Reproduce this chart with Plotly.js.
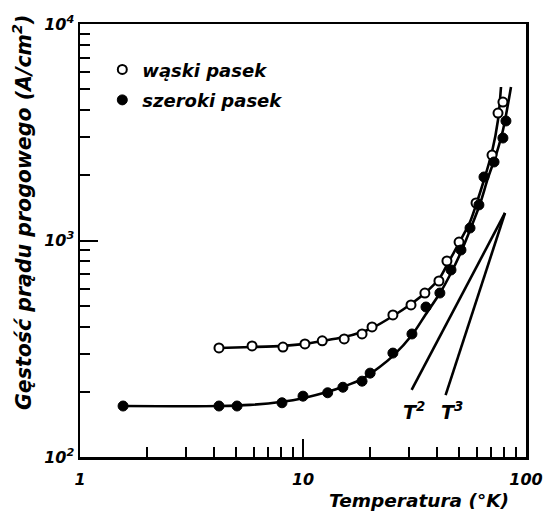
<!DOCTYPE html>
<html>
<head>
<meta charset="utf-8">
<script src="https://cdn.plot.ly/plotly-3.0.1.min.js"></script>
<style>html,body{margin:0;padding:0;background:#fff;}#chart{width:546px;height:516px;}</style>
</head>
<body>
<div id="chart"></div>
<script>
// Measured points: narrow stripe (open circles)
const T_waski = [4.20, 5.91, 8.13, 10.2, 12.2, 15.3, 18.4, 20.4, 25.3, 30.5, 35.2, 40.7, 44.2, 50.1, 59.7, 70.4, 74.9, 78.8];
const J_waski = [319, 326, 322, 333, 344, 351, 370, 399, 453, 504, 572, 650, 804, 984, 1490, 2480, 3880, 4360];
// Measured points: wide stripe (filled circles)
const T_szeroki = [1.56, 4.20, 5.06, 8.05, 10.0, 12.9, 15.1, 18.4, 20.0, 25.3, 30.8, 35.6, 41.1, 46.1, 51.1, 56.1, 61.5, 64.8, 71.9, 78.8, 81.3];
const J_szeroki = [172, 172, 172, 178, 191, 198, 210, 224, 244, 302, 370, 493, 572, 731, 904, 1142, 1460, 1965, 2305, 2974, 3565];
// Hand-drawn curves through the points
const fitT_waski = [4.20, 5.91, 8.13, 10.21, 12.17, 15.27, 18.39, 20.39, 25.33, 30.51, 35.25, 40.72, 44.23, 50.08, 56.09, 59.68, 64.82, 70.39, 74.89, 77.25];
const fitJ_waski = [319, 322, 326, 333, 343, 358, 378, 394, 448, 509, 572, 664, 771, 974, 1218, 1459, 1903, 2563, 3603, 5117];
const fitT_szeroki = [1.56, 4.20, 5.79, 8.05, 10.0, 12.94, 15.11, 18.39, 22.14, 25.33, 30.82, 35.61, 41.15, 46.10, 51.12, 56.09, 62.20, 67.54, 73.37, 78.87, 85.65];
const fitJ_szeroki = [172, 172, 174, 180, 187, 200, 211, 229, 261, 293, 366, 458, 572, 708, 885, 1118, 1475, 1945, 2483, 3239, 5117];
// Reference slopes T^2 and T^3
const T2_T = [30.7, 80.5], T2_J = [204, 1340];
const T3_T = [43.6, 80.5], T3_J = [193, 1340];
const slopeLabels = ['T<sup>2</sup>', 'T<sup>3</sup>'];
const slopeLabelT = [31.5, 46.5], slopeLabelJ = [163, 163];
// Axis ticks
const xTickVals = [1, 10, 100], xTickText = ['1', '10', '100'];
const xMinorVals = [2,3,4,5,6,7,8,9,20,30,40,50,60,70,80,90];
const yTickVals = [100, 1000, 10000], yTickText = ['10<sup>2</sup>', '10<sup>3</sup>', '10<sup>4</sup>'];
const yMinorVals = [200,300,400,500,600,700,800,900,2000,3000,4000,5000,6000,7000,8000,9000];
const seriesNames = ['wąski pasek', 'szeroki pasek'];
const xTitle = 'Temperatura (°K)';
const yTitle = 'Gęstość prądu progowego (A/cm<sup>2</sup>)';

const FONT = {family: 'DejaVu Sans', size: 16, color: '#000', style: 'italic', weight: 'bold'};
const f = (size) => Object.assign({}, FONT, {size: size});
const lineStyle = {color: '#000', width: 2.6};

const traces = [
  {x: fitT_waski, y: fitJ_waski, mode: 'lines', line: Object.assign({shape: 'spline', smoothing: 0.8}, lineStyle), showlegend: false, hoverinfo: 'skip'},
  {x: fitT_szeroki, y: fitJ_szeroki, mode: 'lines', line: Object.assign({shape: 'spline', smoothing: 0.8}, lineStyle), showlegend: false, hoverinfo: 'skip'},
  {x: T2_T, y: T2_J, mode: 'lines', line: lineStyle, showlegend: false, hoverinfo: 'skip'},
  {x: T3_T, y: T3_J, mode: 'lines', line: lineStyle, showlegend: false, hoverinfo: 'skip'},
  {x: T_waski, y: J_waski, name: seriesNames[0], mode: 'markers', legendgroup: 'a',
   marker: {symbol: 'circle', size: 9, color: '#fff', line: {color: '#000', width: 2}}},
  {x: T_szeroki, y: J_szeroki, name: seriesNames[1], mode: 'markers', legendgroup: 'b',
   marker: {symbol: 'circle', size: 10, color: '#000', line: {color: '#000', width: 1}}}
];

const axisCommon = {
  type: 'log', showgrid: false, zeroline: false, showline: true, linecolor: '#000', linewidth: 2.5,
  mirror: true, ticks: 'inside', ticklen: 18, tickwidth: 2, tickcolor: '#000',
  tickfont: f(16), tickmode: 'array'
};

const layout = {
  width: 546, height: 516,
  margin: {l: 80, r: 20, t: 24, b: 59},
  paper_bgcolor: '#fff', plot_bgcolor: '#fff',
  font: FONT,
  showlegend: true,
  legend: {x: 0.05, y: 0.937, xanchor: 'left', yanchor: 'top', bgcolor: 'rgba(0,0,0,0)',
           font: f(18), traceorder: 'grouped', tracegroupgap: 4},
  xaxis: Object.assign({}, axisCommon, {range: [0, 2], tickvals: xTickVals, ticktext: xTickText, ticklabelstandoff: 6,
    minor: {tickmode: 'array', tickvals: xMinorVals, ticks: 'inside', ticklen: 10, tickwidth: 2, tickcolor: '#000'}}),
  yaxis: Object.assign({}, axisCommon, {range: [2, 4], tickvals: yTickVals, ticktext: yTickText,
    minor: {tickmode: 'array', tickvals: yMinorVals, ticks: 'inside', ticklen: 10, tickwidth: 2, tickcolor: '#000'}}),
  annotations: [
    {text: xTitle, xref: 'paper', yref: 'paper', x: 0.76, y: -0.1, xanchor: 'center', yanchor: 'middle', showarrow: false, font: f(18.5)},
    {text: yTitle, xref: 'paper', yref: 'paper', x: -0.13, y: 0.5635, xanchor: 'center', yanchor: 'middle', textangle: -90, showarrow: false, font: f(20.5)},
    {text: slopeLabels[0], x: Math.log10(slopeLabelT[0]), y: Math.log10(slopeLabelJ[0]), showarrow: false, font: f(19)},
    {text: slopeLabels[1], x: Math.log10(slopeLabelT[1]), y: Math.log10(slopeLabelJ[1]), showarrow: false, font: f(19)}
  ]
};

Plotly.newPlot('chart', traces, layout, {displayModeBar: false, staticPlot: true});
</script>
</body>
</html>
